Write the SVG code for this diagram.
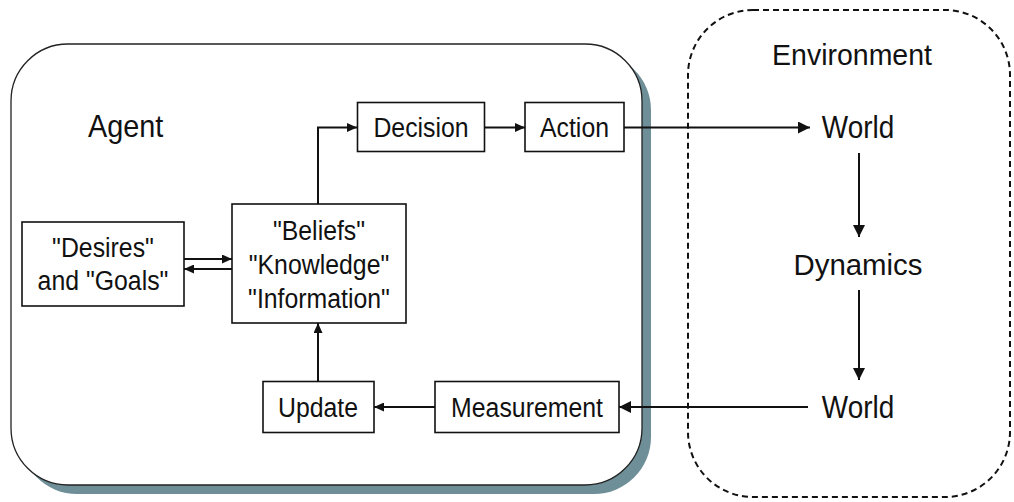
<svg xmlns="http://www.w3.org/2000/svg" width="1014" height="502" viewBox="0 0 1014 502">
<defs>
<style>
text{font-family:"Liberation Sans",Arial,Helvetica,sans-serif;fill:#111;text-anchor:middle}
.box{fill:#fff;stroke:#111;stroke-width:1.6}
.lbl{font-size:27px}
.env{font-size:31px}
.con{fill:none;stroke:#111;stroke-width:2}
</style>
<marker id="ah" markerUnits="userSpaceOnUse" markerWidth="11" markerHeight="9" refX="10" refY="4.5" orient="auto">
<path d="M0,0 L10,4.5 L0,9 z" fill="#111"/>
</marker>
<marker id="ahL" markerUnits="userSpaceOnUse" markerWidth="13" markerHeight="13" refX="12" refY="6" orient="auto">
<path d="M0,0 L12,6 L0,12 z" fill="#111"/>
</marker>
</defs>
<g id="agent">
<rect x="20" y="53" width="631" height="441" rx="57" fill="#6e8f97"/>
<rect x="11" y="44" width="631" height="441" rx="57" fill="#fff" stroke="#222" stroke-width="1.3"/>
<text transform="translate(88,137) scale(0.9,1)" style="font-size:32px;text-anchor:start">Agent</text>
</g>
<g id="environment">
<rect x="688" y="10" width="322" height="487" rx="65" fill="none" stroke="#111" stroke-width="2" stroke-dasharray="6,4"/>
<text transform="translate(852,65) scale(0.95,1)" style="font-size:30px">Environment</text>
</g>
<g id="connectors">
<path class="con" d="M318,204 V127.5 H357" marker-end="url(#ah)"/>
<path class="con" d="M485,127.5 H525" marker-end="url(#ah)"/>
<path class="con" d="M624,127.5 H810" marker-end="url(#ahL)"/>
<path class="con" d="M859,153 V237" marker-end="url(#ahL)"/>
<path class="con" d="M859,290 V380" marker-end="url(#ahL)"/>
<path class="con" d="M808,407 H619" marker-end="url(#ahL)"/>
<path class="con" d="M435,407 H374" marker-end="url(#ah)"/>
<path class="con" d="M318,381 V323" marker-end="url(#ah)"/>
<path class="con" d="M184,259 H232" marker-end="url(#ah)"/>
<path class="con" d="M232,269 H184" marker-end="url(#ah)"/>
</g>
<g id="world-top"><text class="env" transform="translate(858,138) scale(0.9,1)">World</text></g>
<g id="dynamics"><text transform="translate(858,275) scale(0.98,1)" style="font-size:30px">Dynamics</text></g>
<g id="world-bottom"><text class="env" transform="translate(858,418) scale(0.9,1)">World</text></g>
<g id="decision">
<rect class="box" x="357.5" y="102.5" width="127" height="49"/>
<text class="lbl" transform="translate(421,137) scale(0.92,1)">Decision</text>
</g>
<g id="action">
<rect class="box" x="525" y="102.5" width="99" height="49"/>
<text class="lbl" transform="translate(574.5,137) scale(0.92,1)">Action</text>
</g>
<g id="beliefs">
<rect class="box" x="232" y="204" width="174" height="119"/>
<text class="lbl" transform="translate(319,240) scale(0.92,1)">"Beliefs"</text>
<text class="lbl" transform="translate(319,274) scale(0.92,1)">"Knowledge"</text>
<text class="lbl" transform="translate(319,308) scale(0.92,1)">"Information"</text>
</g>
<g id="desires">
<rect class="box" x="22" y="222" width="162" height="84"/>
<text class="lbl" transform="translate(103,257) scale(0.92,1)">"Desires"</text>
<text class="lbl" transform="translate(103,290) scale(0.92,1)">and "Goals"</text>
</g>
<g id="update">
<rect class="box" x="263" y="381.5" width="111" height="51"/>
<text class="lbl" transform="translate(318,417) scale(0.92,1)">Update</text>
</g>
<g id="measurement">
<rect class="box" x="435" y="381.5" width="184" height="51"/>
<text class="lbl" transform="translate(527,417) scale(0.92,1)">Measurement</text>
</g>
</svg>
